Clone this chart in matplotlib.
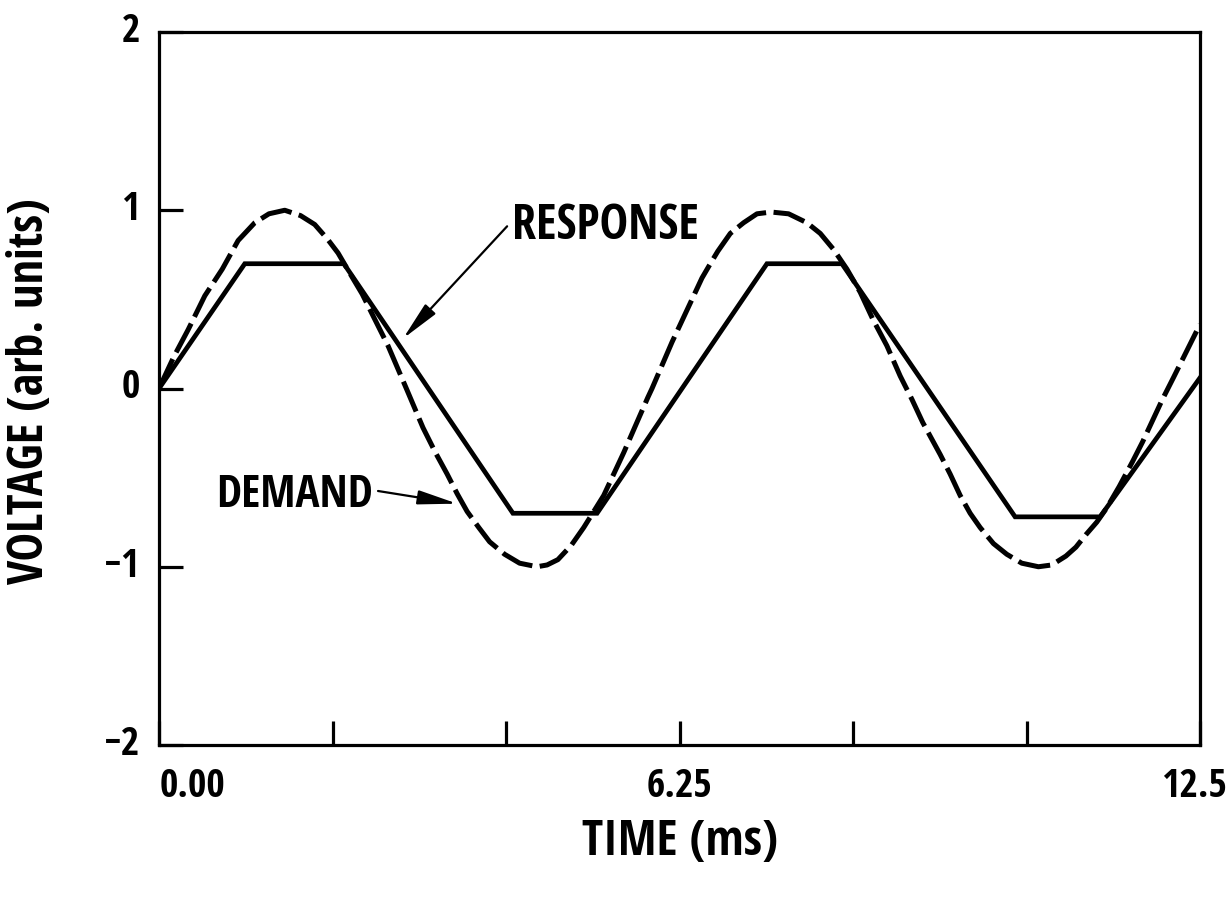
import matplotlib
matplotlib.use("Agg")
import matplotlib.pyplot as plt
from matplotlib import font_manager
from matplotlib.font_manager import FontProperties

# --- data -----------------------------------------------------------------
# demand signal (dashed), time in ms
demand_t = [0.00, 0.18, 0.35, 0.55, 0.76, 0.95, 1.15, 1.32, 1.51, 1.70,
            1.87, 2.02, 2.15, 2.30, 2.44, 2.60, 2.75, 2.86, 2.97, 3.17,
            3.32, 3.46, 3.58, 3.70, 3.84, 3.97, 4.15, 4.33, 4.54, 4.66,
            4.79, 4.95, 5.10, 5.22, 5.34, 5.46, 5.58, 5.72, 5.87, 5.92,
            6.04, 6.16, 6.28, 6.40, 6.52, 6.62, 6.71, 6.86, 7.02, 7.18,
            7.35, 7.56, 7.78, 7.94, 8.10, 8.26, 8.42, 8.57, 8.74, 8.90,
            9.04, 9.17, 9.38, 9.50, 9.62, 9.74, 9.86, 10.02, 10.18, 10.36,
            10.56, 10.72, 10.89, 11.01, 11.13, 11.26, 11.38, 11.53, 11.69, 11.81,
            11.93, 12.05, 12.18, 12.34, 12.50]
demand_v = [0.00, 0.18, 0.33, 0.52, 0.67, 0.83, 0.93, 0.98, 1.00, 0.97,
            0.92, 0.84, 0.76, 0.64, 0.53, 0.38, 0.24, 0.12, 0.00, -0.22,
            -0.36, -0.48, -0.59, -0.69, -0.78, -0.86, -0.93, -0.98, -1.00, -0.99,
            -0.96, -0.88, -0.78, -0.69, -0.60, -0.48, -0.36, -0.21, -0.05, 0.00,
            0.13, 0.26, 0.38, 0.50, 0.62, 0.70, 0.77, 0.87, 0.93, 0.98,
            0.99, 0.98, 0.93, 0.87, 0.78, 0.67, 0.54, 0.39, 0.24, 0.07,
            -0.06, -0.19, -0.37, -0.48, -0.60, -0.70, -0.78, -0.87, -0.93, -0.98,
            -1.00, -0.99, -0.94, -0.89, -0.82, -0.75, -0.67, -0.55, -0.41, -0.30,
            -0.18, -0.06, 0.06, 0.21, 0.36]

# response signal (solid, slew/amplitude limited)
response_t = [0.00, 1.03, 2.22, 4.25, 5.26, 7.30, 8.20, 10.28, 11.30, 12.50]
response_v = [0.00, 0.70, 0.70, -0.70, -0.70, 0.70, 0.70, -0.72, -0.72, 0.06]

x_ticks = [0.0, 12.5 / 6, 2 * 12.5 / 6, 6.25, 4 * 12.5 / 6, 5 * 12.5 / 6, 12.5]
x_labels = [(0.0, "0.00"), (6.25, "6.25"), (12.5, "12.5")]
y_ticks = [-2, -1, 0, 1, 2]
y_labels = [(2, "2"), (1, "1"), (0, "0"), (-1, "\u22121"), (-2, "\u22122")]


# --- fonts: prefer a narrow bold face -------------------------------------
def pick_font():
    cond_rank = {"ultra-condensed": 4, "extra-condensed": 3, "condensed": 2,
                 "semi-condensed": 1}
    prefs = ["Liberation Sans Narrow", "Open Sans Condensed", "Roboto Condensed",
             "Open Sans", "Roboto", "Noto Sans", "Inter", "DejaVu Sans"]
    best = None
    for f in font_manager.fontManager.ttflist:
        w = f.weight
        if isinstance(w, str):
            w = font_manager.weight_dict.get(w, 400)
        if w < 600:
            continue
        narrow = ("Narrow" in f.name or "Condensed" in f.name
                  or f.stretch in cond_rank)
        if not narrow or f.name not in prefs:
            continue
        key = (prefs.index(f.name), -cond_rank.get(f.stretch, 2))
        if best is None or key < best[0]:
            best = (key, f.name, f.stretch)
    if best is None:
        return "DejaVu Sans", "condensed"
    return best[1], best[2]


FAM, STRETCH = pick_font()
plt.rcParams["font.family"] = [FAM, "DejaVu Sans"]
plt.rcParams["font.weight"] = "bold"
plt.rcParams["font.stretch"] = STRETCH

W, H = 1232, 899


def fp(size):
    return FontProperties(family=[FAM, "DejaVu Sans"], weight="bold",
                          stretch=STRETCH, size=size)


# --- figure ---------------------------------------------------------------
fig = plt.figure(figsize=(W / 100, H / 100), dpi=100)
ax = fig.add_axes([159 / W, 1 - 745 / H, (1200 - 159) / W, (745 - 32) / H])

ax.plot(demand_t, demand_v, color="black", lw=3.6, linestyle=(0, (6.5, 1.5)),
        dash_capstyle="butt")
ax.plot(response_t, response_v, color="black", lw=3.4, solid_joinstyle="miter")

ax.set_xlim(0, 12.5)
ax.set_ylim(-2, 2)

for side in ["left", "bottom", "right", "top"]:
    ax.spines[side].set_linewidth(2.3)

ax.set_xticks(x_ticks)
ax.set_yticks(y_ticks)
ax.set_xticklabels([])
ax.set_yticklabels([])
ax.tick_params(axis="both", direction="in", length=17, width=2.3)

# tick labels
xt = []
for x, s in x_labels:
    ha = "center"
    dx = 0
    if x == 0.0:
        ha, dx = "left", 1
    elif x == 12.5:
        dx = -6
    t = ax.annotate(s, xy=(x, 0), xycoords=("data", "axes fraction"),
                    xytext=(dx, -42), textcoords="offset pixels",
                    ha=ha, va="center", fontproperties=fp(24))
    xt.append(t)
yt = []
for v, s in y_labels:
    t = ax.annotate(s, xy=(0, v), xycoords=("axes fraction", "data"),
                    xytext=(-19, 0), textcoords="offset pixels",
                    ha="right", va="center", fontproperties=fp(24))
    yt.append(t)

xlab = fig.text(680 / W, 1 - 843 / H, "TIME (ms)", ha="center", va="center",
                fontproperties=fp(28))
ylab = fig.text(31 / W, 1 - 391 / H, "VOLTAGE (arb. units)", ha="center",
                va="center", rotation=90, fontproperties=fp(28))

resp = ax.text(4.24, 0.836, "RESPONSE", ha="left", va="baseline",
               fontproperties=fp(26))
dem = ax.text(2.57, -0.663, "DEMAND", ha="right", va="baseline",
              fontproperties=fp(26))

arrow = dict(arrowstyle="-|>,head_length=1.0,head_width=0.18",
             color="black", lw=1.6, shrinkA=0, shrinkB=0, mutation_scale=24)
ax.annotate("", xy=(2.93, 0.28), xytext=(4.18, 0.91), arrowprops=arrow)
ax.annotate("", xy=(3.58, -0.646), xytext=(2.63, -0.575), arrowprops=arrow)

# scale text sizes so that their printed widths follow the layout
fig.canvas.draw()
r = fig.canvas.get_renderer()


def fit(texts, ref, target, vertical=False):
    bb = ref.get_window_extent(r)
    cur = bb.height if vertical else bb.width
    size = ref.get_fontsize() * target / cur
    for t in texts:
        t.set_fontsize(size)


fit(xt + yt, xt[1], 66)
fit([xlab], xlab, 196)
fit([ylab], ylab, 386, vertical=True)
fit([resp], resp, 187)
fit([dem], dem, 156)

fig.savefig("out.png", dpi=100)
